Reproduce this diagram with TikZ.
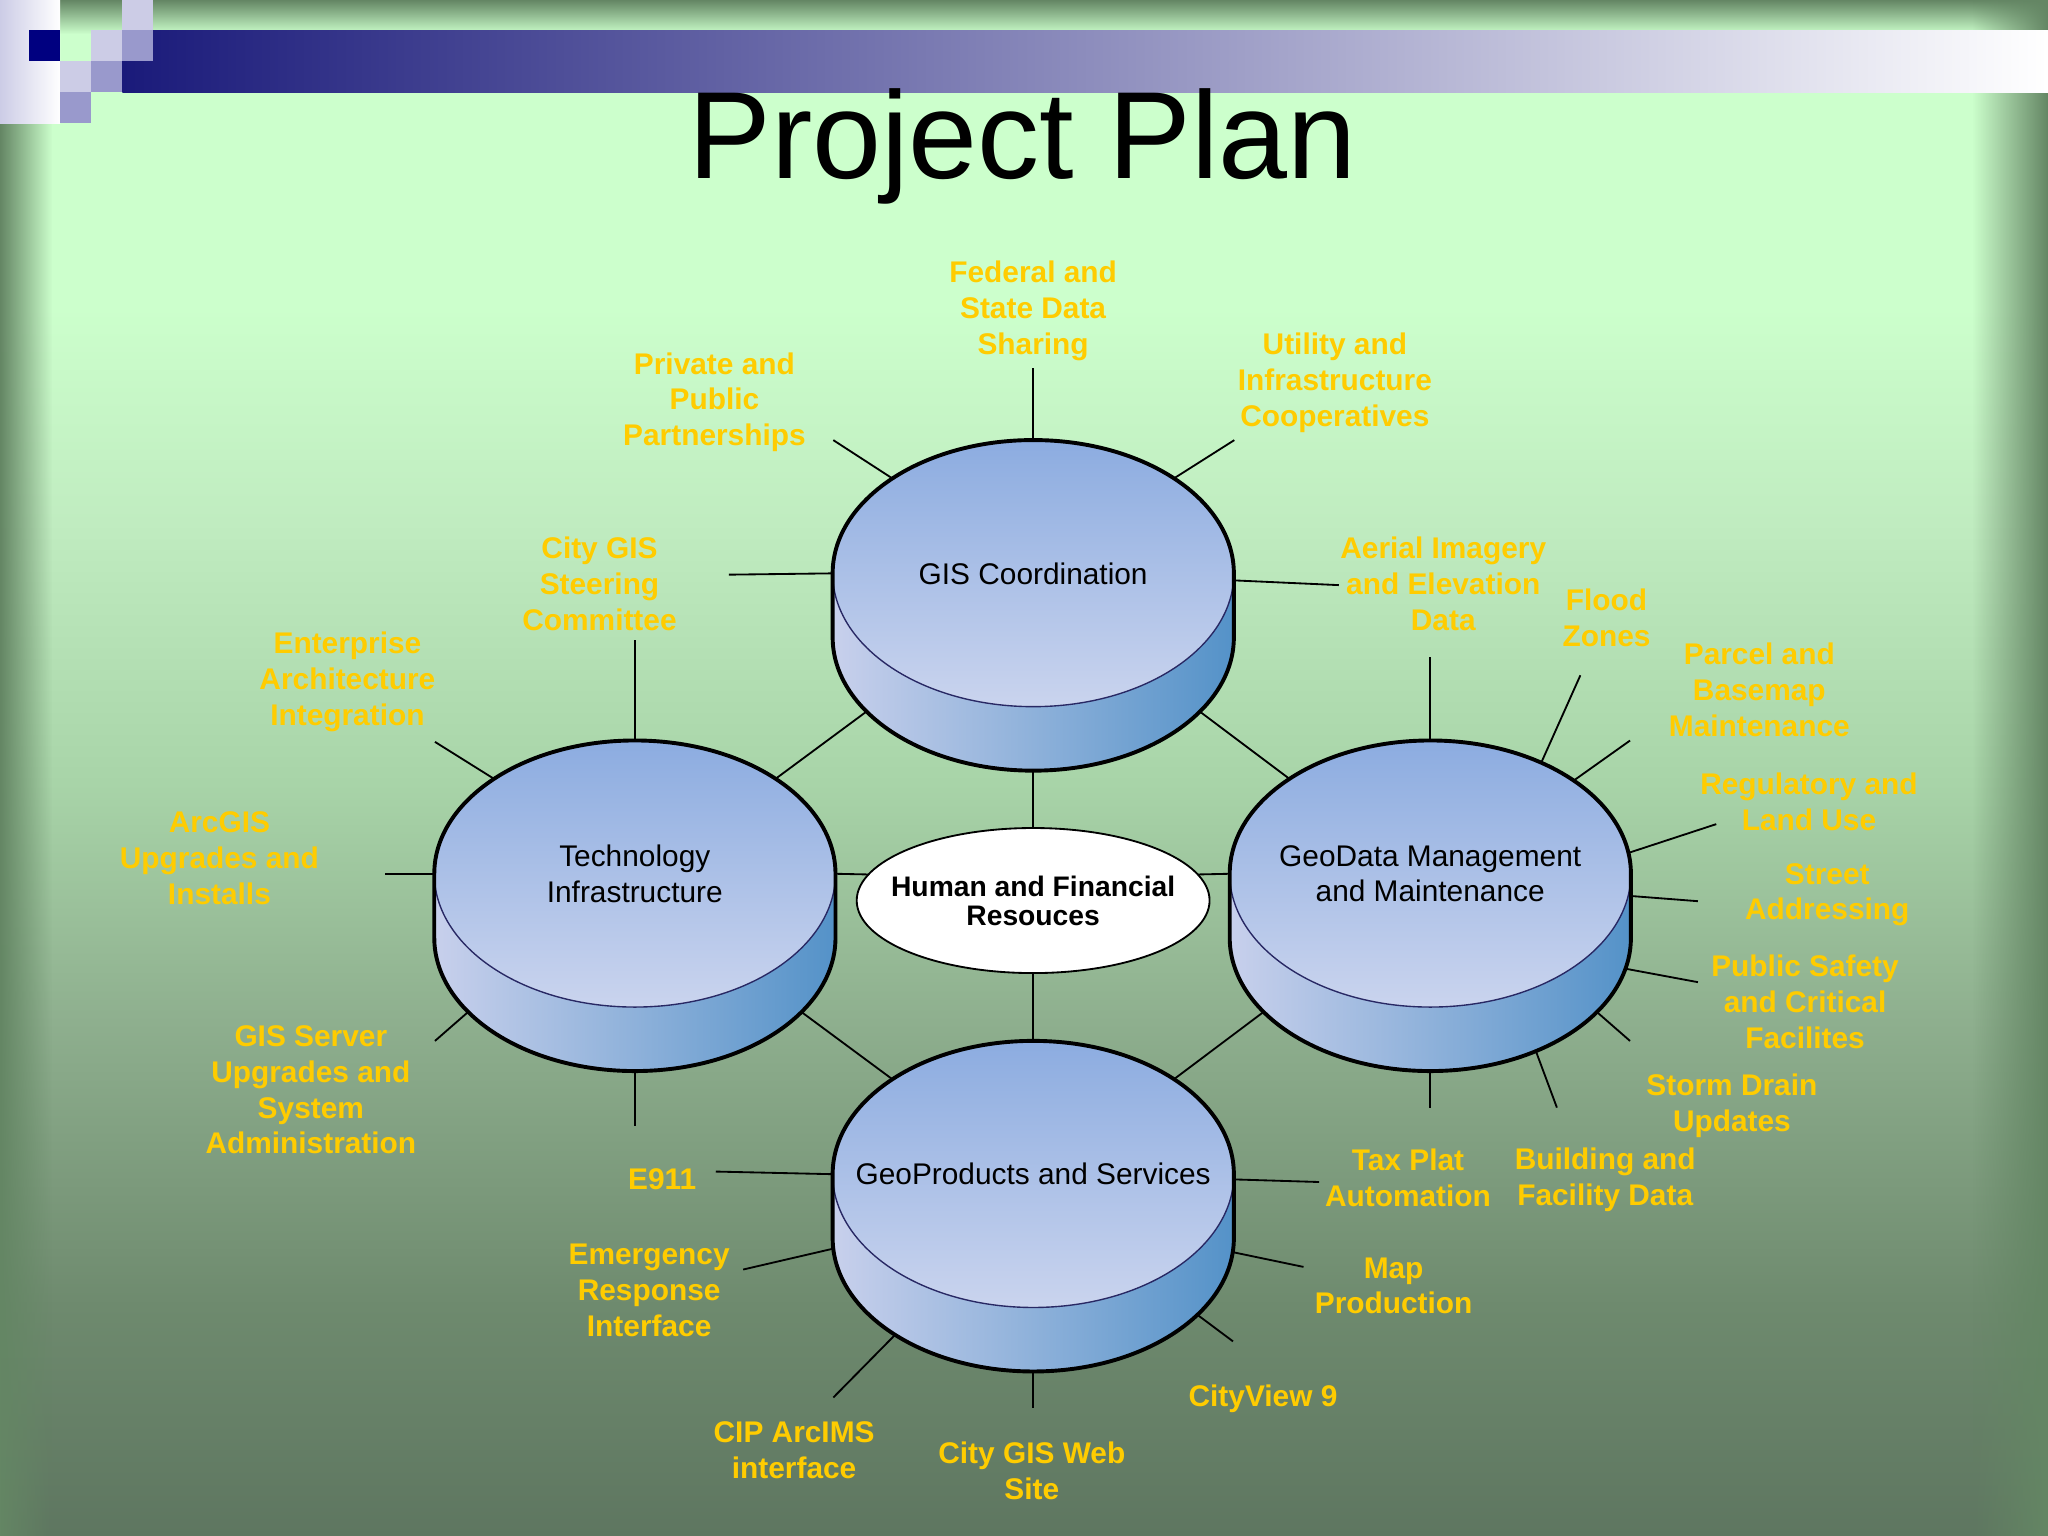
\documentclass[tikz,border=0pt]{standalone}
\usepackage{fontspec}
\setmainfont{Liberation Sans}
\usetikzlibrary{shapes.geometric,fadings}

\definecolor{labelc}{RGB}{255,204,0}
\definecolor{diskt}{RGB}{140,172,224}
\definecolor{diskb}{RGB}{202,212,238}
\definecolor{sidel}{RGB}{200,208,236}
\definecolor{sider}{RGB}{84,146,200}
\definecolor{rimc}{RGB}{40,40,100}
\definecolor{edgec}{RGB}{100,134,100}
\definecolor{barnavy}{RGB}{26,26,122}
\definecolor{sqnavy}{RGB}{0,0,128}
\definecolor{sqlight}{RGB}{204,204,230}
\definecolor{sqmid}{RGB}{153,153,204}
\definecolor{bg0}{RGB}{94,118,96}
\definecolor{bg1}{RGB}{110,138,110}
\definecolor{bg2}{RGB}{143,176,143}
\definecolor{bg3}{RGB}{168,212,168}
\definecolor{bg4}{RGB}{192,236,192}
\definecolor{bg5}{RGB}{204,255,204}

\pgfdeclareverticalshading{slidebg}{100bp}{color(0bp)=(bg0); color(25bp)=(bg0);
  color(32.5bp)=(bg1); color(42bp)=(bg2); color(49.5bp)=(bg3);
  color(58bp)=(bg4); color(65bp)=(bg5); color(100bp)=(bg5)}

\newcommand{\lblfont}{\fontsize{6.5pt}{7.8pt}\selectfont\bfseries}
\newcommand{\dskfont}{\fontsize{6.5pt}{7.7pt}\selectfont}
\newcommand{\hubfont}{\fontsize{6.15pt}{6.3pt}\selectfont\bfseries}

% one disk: name, centre x, centre y, text
\newcommand{\disk}[4]{%
  \shade[left color=sidel, right color=sider]
    (#2-153.5,#3) -- ++(0,-49)
    arc[start angle=180, end angle=360, x radius=1.535cm, y radius=1.02cm]
    -- ++(0,49)
    arc[start angle=0, end angle=-180, x radius=1.535cm, y radius=1.02cm] -- cycle;
  \shade[top color=diskt, bottom color=diskb]
    (#2,#3) ellipse[x radius=1.535cm, y radius=1.02cm];
  \draw[rimc, line width=0.3pt] (#2-153.5,#3)
    arc[start angle=180, end angle=360, x radius=1.535cm, y radius=1.02cm];
  \draw[line width=0.85pt, line join=round] (#2-153.5,#3)
    arc[start angle=180, end angle=0, x radius=1.535cm, y radius=1.02cm]
    -- ++(0,-49)
    arc[start angle=0, end angle=-180, x radius=1.535cm, y radius=1.02cm] -- cycle;
  \node[diskshape] (#1) at (#2,#3) {};
  \node[diskshape] (#1-b) at (#2,#3-49) {};
  \node[disktxt] (#1-t) at (#1) {#4};
}

\begin{document}
\begin{tikzpicture}[
  x=0.01cm, y=0.01cm,
  diskshape/.style={ellipse, minimum width=3.07cm, minimum height=2.04cm,
                    inner sep=0pt, outer sep=0pt},
  disktxt/.style={align=center, font=\dskfont, inner sep=0pt},
  hub/.style={ellipse, draw, fill=white, line width=0.4pt,
              minimum width=2.7cm, minimum height=1.11cm,
              inner sep=0pt, outer sep=0pt},
  hubtxt/.style={align=center, font=\hubfont, inner sep=0pt},
  lbl/.style={align=center, font=\lblfont, text=labelc, inner sep=0pt},
  title/.style={font=\fontsize{27pt}{32pt}\selectfont, anchor=base},
  wire/.style={line width=0.4pt},
]
  \useasboundingbox (0,0) rectangle (1568,1176);

  % slide background
  \shade[shading=slidebg] (0,0) rectangle (1568,1176);
  \fill[edgec, path fading=south] (0,1150) rectangle (1568,1176);
  \fill[edgec, path fading=east] (0,0) rectangle (40,1176);
  \fill[edgec, path fading=west] (1510,0) rectangle (1568,1176);

  % header bar and squares
  \shade[left color=sqlight, right color=white] (0,1081.6) rectangle (46.1,1176);
  \shade[left color=barnavy, right color=white] (93.7,1105.4) rectangle (1568,1153);
  \foreach \x/\y/\c in {22.3/1129.2/sqnavy, 69.9/1129.2/sqlight,
      93.7/1153/sqlight, 46.1/1105.4/sqlight, 93.7/1129.2/sqmid,
      69.9/1105.4/sqmid, 46.1/1081.6/sqmid}
    \fill[\c] (\x,\y) rectangle ++(23.8,23.8);

  \node[title] (ttl) at (783,1039) {Project Plan};

  % disks
  \disk{gis}{791}{737}{GIS Coordination}
  \disk{tech}{486}{507}{Technology\\Infrastructure}
  \disk{geo}{1095}{507}{GeoData Management\\and Maintenance}
  \disk{prod}{791}{277}{GeoProducts and Services}

  \node[hub] (hfr) at (791,486.5) {};
  \node[hubtxt] (hfr-t) at (hfr) {Human and Financial\\Resouces};

  % labels
  \node[lbl] (fed) at (791,938) {Federal and\\State Data\\Sharing};
  \node[lbl] (pvt) at (547,868) {Private and\\Public\\Partnerships};
  \node[lbl] (util) at (1022,883) {Utility and\\Infrastructure\\Cooperatives};
  \node[lbl] (city) at (459,729) {City GIS\\Steering\\Committee};
  \node[lbl] (aerial) at (1105,729) {Aerial Imagery\\and Elevation\\Data};
  \node[lbl] (flood) at (1230,703) {Flood\\Zones};
  \node[lbl] (parcel) at (1347,648) {Parcel and\\Basemap\\Maintenance};
  \node[lbl] (ent) at (266,654) {Enterprise\\Architecture\\Integration};
  \node[lbl] (reg) at (1385,562) {Regulatory and\\Land Use};
  \node[lbl] (arc) at (168,519) {ArcGIS\\Upgrades and\\Installs};
  \node[lbl] (street) at (1399,491) {Street\\Addressing};
  \node[lbl] (safety) at (1382,409) {Public Safety\\and Critical\\Facilites};
  \node[lbl] (server) at (238,341.5) {GIS Server\\Upgrades and\\System\\Administration};
  \node[lbl] (storm) at (1326,329.5) {Storm Drain\\Updates};
  \node[lbl] (tax) at (1078,274) {Tax Plat\\Automation};
  \node[lbl] (bldg) at (1229,273) {Building and\\Facility Data};
  \node[lbl] (e911) at (507,273) {E911};
  \node[lbl] (emerg) at (497,188) {Emergency\\Response\\Interface};
  \node[lbl] (map) at (1067,191.5) {Map\\Production};
  \node[lbl] (cview) at (967,105) {CityView 9};
  \node[lbl] (cip) at (608,65.5) {CIP ArcIMS\\interface};
  \node[lbl] (web) at (790,50) {City GIS Web\\Site};

  % free ends of the spokes, next to the labels
  \foreach \n/\x/\y in {fed/791/894, pvt/638/839, util/945/839,
      cityh/558/736, cityv/486/686, aerialh/1025/728, aerialv/1095/673,
      ent/333/608, arc/295/507, server/333/379, e911v/486/314,
      e911h/548/279, flood/1210/659, parcel/1248/609, reg/1314/545,
      street/1300/486, safety/1300/424, storm/1248/379, bldg/1192/328,
      taxv/1095/328, taxh/1010/271, emerg/569/204, cip/638/106,
      web/791/98, cview/944/149, map/998/206}
    \coordinate (\n-end) at (\x,\y);

  % GIS Coordination
  \draw[wire] (gis.north) -- (fed-end);
  \draw[wire] (gis.146) -- (pvt-end);
  \draw[wire] (gis.34) -- (util-end);
  \draw[wire] (gis.west) -- (cityh-end);
  \draw[wire] (gis.-2) -- (aerialh-end);
  \draw[wire] (gis-b.204) -- (tech.34);
  \draw[wire] (gis-b.336) -- (geo.146);
  \draw[wire] (gis-b.south) -- (hfr.north);

  % Technology Infrastructure
  \draw[wire] (tech.north) -- (cityv-end);
  \draw[wire] (tech.146) -- (ent-end);
  \draw[wire] (tech.west) -- (arc-end);
  \draw[wire] (tech-b.204) -- (server-end);
  \draw[wire] (tech-b.south) -- (e911v-end);
  \draw[wire] (tech-b.336) -- (prod.146);
  \draw[wire] (tech.east) -- (hfr.171);

  % GeoData Management
  \draw[wire] (geo.north) -- (aerialv-end);
  \draw[wire] (geo.45) -- (flood-end);
  \draw[wire] (geo.33) -- (parcel-end);
  \draw[wire] (geo.6) -- (reg-end);
  \draw[wire] ([yshift=-0.17cm]geo.east) -- (street-end);
  \draw[wire] (geo-b.-9) -- (safety-end);
  \draw[wire] (geo-b.-24) -- (storm-end);
  \draw[wire] (geo-b.-47) -- (bldg-end);
  \draw[wire] (geo-b.south) -- (taxv-end);
  \draw[wire] (geo-b.204) -- (prod.34);
  \draw[wire] (geo.west) -- (hfr.9);

  % GeoProducts and Services
  \draw[wire] (prod.west) -- (e911h-end);
  \draw[wire] (prod-b.183) -- (emerg-end);
  \draw[wire] (prod-b.215) -- (cip-end);
  \draw[wire] (prod-b.south) -- (web-end);
  \draw[wire] (prod-b.-25) -- (cview-end);
  \draw[wire] (prod-b.-4) -- (map-end);
  \draw[wire] ([yshift=-0.04cm]prod.east) -- (taxh-end);
  \draw[wire] (hfr.south) -- (prod.north);
\end{tikzpicture}
\end{document}
